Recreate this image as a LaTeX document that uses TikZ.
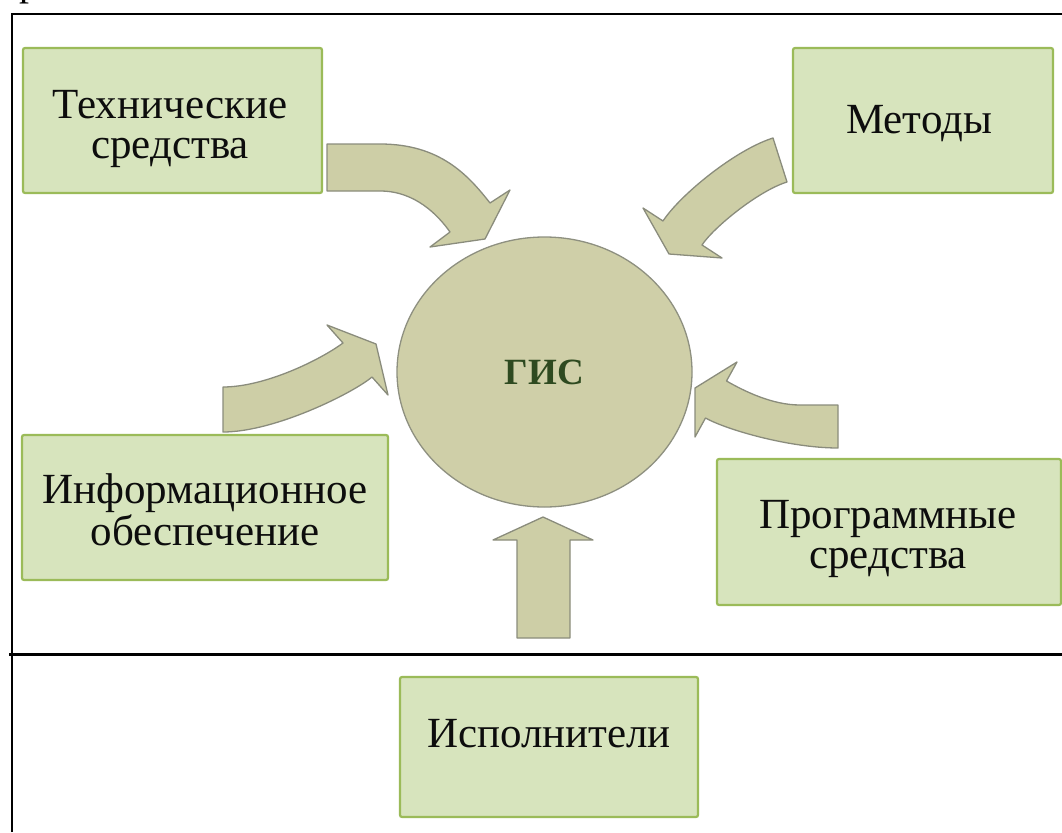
\documentclass[tikz,border=0pt]{standalone}
\usepackage{fontspec}
\setmainfont{Liberation Serif}
\usetikzlibrary{shapes.geometric}

\definecolor{boxfill}{HTML}{D7E4BD}
\definecolor{boxline}{HTML}{9BBB59}
\definecolor{gisfill}{HTML}{CFCFA8}
\definecolor{gisline}{HTML}{8E9080}
\definecolor{arrowfill}{HTML}{CDCEA6}
\definecolor{arrowline}{HTML}{8A8C7C}
\definecolor{gistext}{HTML}{2E4A20}

% two centred lines whose base anchor sits on the first line
\newcommand{\twolines}[2]{\begin{tabular}[t]{@{}c@{}}#1\\#2\end{tabular}}

\begin{document}
\begin{tikzpicture}[x=1pt,y=-1pt,
  panel/.style={draw=boxline, fill=boxfill, line width=2.2pt, rounded corners=2pt, inner sep=0pt},
  boxtext/.style={anchor=base, inner sep=0pt, font=\fontsize{43}{40.5}\selectfont, text=black!95},
  blockarrow/.style={draw=arrowline, fill=arrowfill, line width=1.3pt, line join=round},
  frameline/.style={line width=2pt, black}]

\useasboundingbox (0,0) rectangle (1062,832);

% cut-off letter of the line above the frame
\node[anchor=base west, inner sep=0pt, font=\fontsize{40}{40}\selectfont] (cut) at (19,-4.7) {р};

% frame
\draw[frameline] (12,832) -- (12,14) -- (1062,14);
\draw[frameline, line width=3pt] (9,654) -- (1062,654);

% component boxes
\node[panel, minimum width=299pt, minimum height=145pt] (tech)  at (172.5,120.5) {};
\node[panel, minimum width=260pt, minimum height=145pt] (meth)  at (923,120.5) {};
\node[panel, minimum width=366pt, minimum height=145pt] (info)  at (205,507.5) {};
\node[panel, minimum width=344pt, minimum height=146pt] (soft)  at (889,532) {};
\node[panel, minimum width=298pt, minimum height=140pt] (staff) at (549,747) {};

\node[boxtext] (techtxt)  at (170,118) {\twolines{Технические}{средства}};
\node[boxtext] (methtxt)  at (919,133) {Методы};
\node[boxtext] (infotxt)  at (205,503) {\twolines{Информационное}{обеспечение}};
\node[boxtext] (softtxt)  at (888,528) {\twolines{Программные}{средства}};
\node[boxtext] (stafftxt) at (549,747) {Исполнители};

% central system
\node[ellipse, draw=gisline, fill=gisfill, line width=1.3pt,
      minimum width=295pt, minimum height=270pt, inner sep=0pt,
      font=\fontsize{37}{37}\selectfont\bfseries, text=gistext] (gis) at (544.5,372) {ГИС};

% curved block arrows pointing at the system
\draw[blockarrow] (327,144) -- (380,144) .. controls (440,144) and (468,175) .. (490,203)
  -- (510,190) -- (485,239) -- (430,247) -- (450,232)
  .. controls (438,215) and (415,191) .. (380,191) -- (327,191) -- cycle;

\draw[blockarrow] (773,138) .. controls (735,150) and (680,195) .. (663,221)
  -- (643,208) -- (669,254) -- (722,258) -- (702,245)
  .. controls (713,228) and (758,191) .. (787,182) -- cycle;

\draw[blockarrow] (223,387) .. controls (265,387) and (320,360) .. (343,343)
  -- (327,325) -- (376,344) -- (388,395) -- (372,377)
  .. controls (353,393) and (275,432) .. (223,432) -- cycle;

\draw[blockarrow] (838,405) -- (800,405) .. controls (772,405) and (744,391) .. (726.5,381)
  -- (737,362) -- (695,388) -- (695,437) -- (705.5,418)
  .. controls (727,430) and (790,448) .. (838,448) -- cycle;

% straight arrow from below
\draw[blockarrow] (517,638) -- (517,540) -- (493,540) -- (543,517) -- (593,540)
  -- (570,540) -- (570,638) -- cycle;

\end{tikzpicture}
\end{document}
